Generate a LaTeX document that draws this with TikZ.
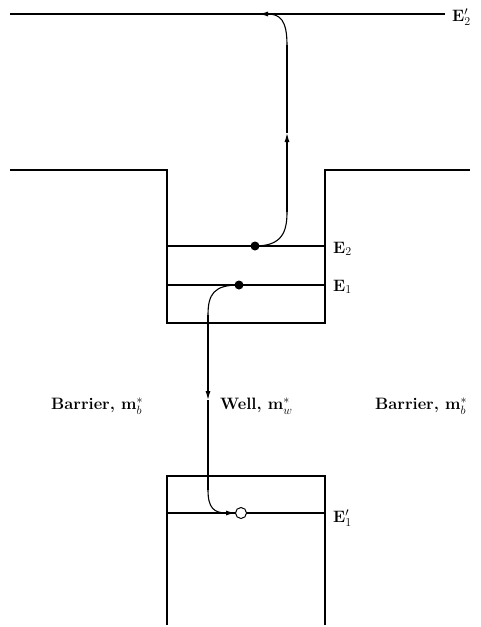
\documentclass[tikz,border=0pt]{standalone}
\usetikzlibrary{arrows.meta}
\begin{document}
\begin{tikzpicture}[x=1pt,y=-1pt,
  band/.style={line width=1.3pt},
  trans/.style={line width=1.1pt},
  lbl/.style={font=\fontsize{16.5}{19}\selectfont\bfseries, inner sep=0pt},
  tip/.style={-{Latex[length=9pt,width=5pt]}}]
\useasboundingbox (0,0) rectangle (481,627);
% coordinates
\coordinate (tl) at (10,14);
\coordinate (tr) at (445,14);
\coordinate (cbL0) at (10,170);
\coordinate (cbL1) at (167,170);
\coordinate (cbR1) at (325,170);
\coordinate (cbR0) at (470,170);
\coordinate (wbL) at (167,323);
\coordinate (wbR) at (325,323);
\coordinate (e2L) at (167,246);
\coordinate (e2R) at (325,246);
\coordinate (e1L) at (167,285);
\coordinate (e1R) at (325,285);
\coordinate (vtL) at (167,476);
\coordinate (vtR) at (325,476);
\coordinate (vbL) at (167,625);
\coordinate (vbR) at (325,625);
\coordinate (h1L) at (167,513);
\coordinate (h1R) at (325,513);
% bands
\draw[band] (tl) -- (tr);
\draw[band] (cbL0) -- (cbL1) -- (wbL) -- (wbR) -- (cbR1) -- (cbR0);
\draw[band] (e2L) -- (e2R);
\draw[band] (e1L) -- (e1R);
\draw[band] (vbL) -- (vtL) -- (vtR) -- (vbR);
\draw[band] (h1L) -- (h1R);
% particles
\node[circle, fill, inner sep=0pt, minimum size=9pt] (d2) at (255,246) {};
\node[circle, fill, inner sep=0pt, minimum size=9pt] (d1) at (239,285) {};
\node[circle, draw, line width=1pt, fill=white, inner sep=0pt, minimum size=11pt] (h1) at (241,513) {};
% transition paths
\coordinate (a2) at (287,212);
\coordinate (m2) at (287,133);
\coordinate (b2) at (287,45);
\coordinate (t2) at (259,14);
\draw[trans] (d2.center) .. controls (282,246) and (287,232) .. (a2);
\draw[trans, tip] (a2) -- (m2);
\draw[trans] (m2) -- (b2);
\draw[trans, tip] (b2) .. controls (287,20) and (280,14) .. (t2);
\coordinate (a1) at (208,315);
\coordinate (m1) at (208,400);
\coordinate (b1) at (208,490);
\draw[trans] (d1.center) .. controls (214,285) and (208,294) .. (a1);
\draw[trans, tip] (a1) -- (m1);
\draw[trans] (m1) -- (b1);
\draw[trans, tip] (b1) .. controls (208,508) and (214,513) .. (h1.west);
% labels
\node[lbl, anchor=west] (lE2p) at (452,17) {E$'_2$};
\node[lbl, anchor=west] (lE2) at (333,249) {E$_2$};
\node[lbl, anchor=west] (lE1) at (333,287) {E$_1$};
\node[lbl, anchor=west] (lE1p) at (333,518) {E$'_1$};
\node[lbl, anchor=west] (bl) at (51,406) {Barrier, m$^*_b$};
\node[lbl, anchor=west] (wl) at (220,406) {Well, m$^*_w$};
\node[lbl, anchor=west] (br) at (375,406) {Barrier, m$^*_b$};
\end{tikzpicture}
\end{document}
